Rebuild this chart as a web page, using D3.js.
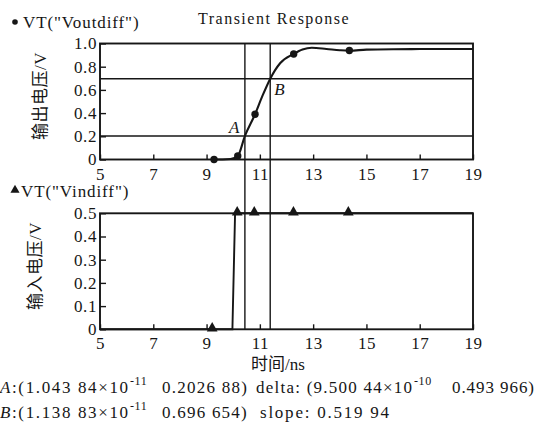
<!DOCTYPE html>
<html><head><meta charset="utf-8">
<script src="https://cdn.jsdelivr.net/npm/d3@7"></script>
<style>
html,body{margin:0;padding:0;background:#fff;}
svg{display:block;}
</style></head>
<body>
<svg id="chart" width="541" height="423" font-family="'Liberation Serif','Noto Sans CJK SC',serif"></svg>
<script>
// ---- data ----
const xTicks = [5, 7, 9, 11, 13, 15, 17, 19];
const outTicks = [0, 0.2, 0.4, 0.6, 0.8, 1.0];
const outTickLabels = ["0", "0.2", "0.4", "0.6", "0.8", "1.0"];
const inTicks = [0, 0.1, 0.2, 0.3, 0.4, 0.5];
const inTickLabels = ["0", "0.1", "0.2", "0.3", "0.4", "0.5"];

// Voutdiff curve (time ns, volts)
const outTime = [9.28, 9.6, 9.9, 10.17, 10.44, 10.82, 11.1, 11.39, 11.76, 12.27, 12.6, 12.95, 13.5, 14.0, 14.36, 15.0, 16.0, 17.0, 18.0, 19.0];
const outVolt = [0, 0, 0.004, 0.03, 0.203, 0.39, 0.55, 0.697, 0.83, 0.91, 0.948, 0.963, 0.953, 0.942, 0.938, 0.947, 0.951, 0.952, 0.953, 0.953];
// Voutdiff markers
const outMarkTime = [9.28, 10.17, 10.82, 12.27, 14.36];
const outMarkVolt = [0, 0.03, 0.39, 0.91, 0.94];

// Vindiff signal
const inTime = [5, 9.97, 10.07, 19];
const inVolt = [0, 0, 0.5, 0.5];
const inMarkTime = [9.21, 10.15, 10.79, 12.26, 14.32];
const inMarkVolt = [0, 0.5, 0.5, 0.5, 0.5];

// cursor points A and B (ns, V)
const pointA = [10.4384, 0.202688];
const pointB = [11.3883, 0.696654];

// ---- drawing ----
const svg = d3.select("#chart");
const ink = "#161616";
const SERIF = "'Liberation Serif','Noto Sans CJK SC',serif";
const x = d3.scaleLinear().domain([5, 19]).range([100, 473]);
const yOut = d3.scaleLinear().domain([0, 1]).range([159.5, 43.5]);
const yIn = d3.scaleLinear().domain([0, 0.5]).range([329.3, 213.3]);
const FS = 17;

function panel(y, ticks, labels, yBase) {
  const g = svg.append("g");
  const ax = g.append("g").attr("transform", `translate(0,${yBase})`)
    .call(d3.axisBottom(x).tickValues(xTicks).tickSize(-5).tickPadding(8).tickFormat(d3.format("d")));
  ax.attr("font-family", SERIF).attr("font-size", FS);
  ax.select(".domain").remove();
  ax.selectAll("line").attr("stroke", ink).attr("stroke-width", 1.4);
  ax.selectAll("text").attr("fill", ink).style("letter-spacing", "0.5px");
  const ay = g.append("g").attr("transform", `translate(${x(5)},0)`)
    .call(d3.axisLeft(y).tickValues(ticks).tickSize(-6).tickPadding(3).tickFormat((d, i) => labels[i]));
  ay.attr("font-family", SERIF).attr("font-size", FS);
  ay.select(".domain").remove();
  ay.selectAll("line").attr("stroke", ink).attr("stroke-width", 1.4);
  ay.selectAll("text").attr("fill", ink).style("letter-spacing", "0.6px");
  g.append("rect").attr("x", x(5)).attr("y", y.range()[1])
    .attr("width", x(19) - x(5)).attr("height", y.range()[0] - y.range()[1])
    .attr("fill", "none").attr("stroke", ink).attr("stroke-width", 1.9);
}
panel(yOut, outTicks, outTickLabels, yOut(0));
panel(yIn, inTicks, inTickLabels, yIn(0));

// reference lines
[pointA, pointB].forEach(p => {
  svg.append("line").attr("x1", x(p[0])).attr("x2", x(p[0]))
    .attr("y1", yOut(1)).attr("y2", yIn(0))
    .attr("stroke", ink).attr("stroke-width", 1.4);
  svg.append("line").attr("x1", x(5)).attr("x2", x(19))
    .attr("y1", yOut(p[1])).attr("y2", yOut(p[1]))
    .attr("stroke", ink).attr("stroke-width", 1.4);
});

// output curve
const outData = outTime.map((t, i) => [t, outVolt[i]]);
svg.append("path").datum(outData)
  .attr("d", d3.line().x(d => x(d[0])).y(d => yOut(d[1])).curve(d3.curveMonotoneX))
  .attr("fill", "none").attr("stroke", ink).attr("stroke-width", 2.1);
svg.selectAll(".odot").data(outMarkTime.map((t, i) => [t, outMarkVolt[i]])).enter()
  .append("circle").attr("cx", d => x(d[0])).attr("cy", d => yOut(d[1])).attr("r", 3.7).attr("fill", ink);

// input signal
const inData = inTime.map((t, i) => [t, inVolt[i]]);
svg.append("path").datum(inData)
  .attr("d", d3.line().x(d => x(d[0])).y(d => yIn(d[1])))
  .attr("fill", "none").attr("stroke", ink).attr("stroke-width", 1.9);
const tri = d3.symbol().type(d3.symbolTriangle).size(50);
svg.selectAll(".itri").data(inMarkTime.map((t, i) => [t, inMarkVolt[i]])).enter()
  .append("path").attr("d", tri)
  .attr("transform", d => `translate(${x(d[0])},${yIn(d[1]) - 1})`).attr("fill", ink);

function txt(xp, yp, s, opts = {}) {
  const t = svg.append("text").attr("x", xp).attr("y", yp)
    .attr("font-size", opts.fs || FS).attr("fill", ink).text(s);
  if (opts.italic) t.attr("font-style", "italic");
  if (opts.ls != null) t.style("letter-spacing", opts.ls + "px");
  if (opts.anchor) t.attr("text-anchor", opts.anchor);
  return t;
}

// point labels
txt(x(pointA[0]) - 16, yOut(pointA[1]) - 3, "A", {italic: true});
txt(x(pointB[0]) + 4, yOut(pointB[1]) + 16, "B", {italic: true});

// titles / legends
svg.append("circle").attr("cx", 15).attr("cy", 22).attr("r", 2.8).attr("fill", ink);
txt(23, 28, 'VT("Voutdiff")', {ls: 0.9});
txt(198, 24, "Transient Response", {fs: 16, ls: 1.5});
svg.append("path").attr("d", d3.symbol().type(d3.symbolTriangle).size(36))
  .attr("transform", "translate(15,190)").attr("fill", ink);
txt(21, 197, 'VT("Vindiff")', {ls: 0.9});

// axis titles
txt(0, 0, "输出电压/V", {anchor: "middle", ls: 0.5}).attr("transform", "translate(46,96) rotate(-90)");
txt(0, 0, "输入电压/V", {anchor: "middle", ls: 0.5}).attr("transform", "translate(41,266) rotate(-90)");
txt(278, 370, "时间/ns", {anchor: "middle"});

// readout lines: each segment fitted to its measured extent
function seg(xp, yp, parts, xEnd) {
  const t = svg.append("text").attr("x", xp).attr("y", yp).attr("font-size", FS).attr("fill", ink);
  let n = 0;
  parts.forEach(p => {
    const s = t.append("tspan").text(p.t);
    if (p.i) s.attr("font-style", "italic");
    n += p.t.length;
  });
  const w = t.node().getComputedTextLength();
  const ls = ((xEnd - xp) - w) / Math.max(1, n - 1);
  t.style("letter-spacing", ls.toFixed(2) + "px");
  return t;
}
function sup(xp, yp, s) {
  txt(xp, yp, s, {fs: 12, ls: 0.6});
}
const yA = 393, yB = 418;
seg(0, yA, [{t: "A", i: true}, {t: ":(1.043 84×10"}], 128);
sup(130, yA - 8, "-11");
seg(162, yA, [{t: "0.2026 88)"}], 247);
seg(256, yA, [{t: "delta: (9.500 44×10"}], 412);
sup(414, yA - 8, "-10");
seg(452, yA, [{t: "0.493 966)"}], 534);
seg(0, yB, [{t: "B", i: true}, {t: ":(1.138 83×10"}], 128);
sup(130, yB - 8, "-11");
seg(162, yB, [{t: "0.696  654)"}], 248);
seg(260, yB, [{t: "slope: 0.519 94"}], 389);
</script>
</body></html>
